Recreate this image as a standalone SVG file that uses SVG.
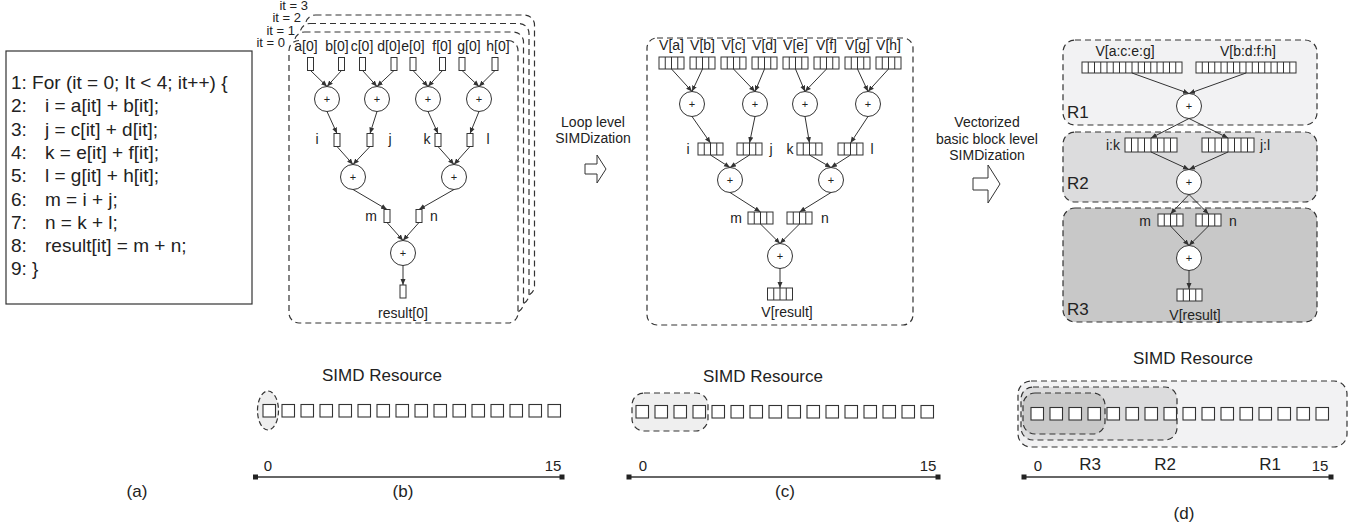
<svg xmlns="http://www.w3.org/2000/svg" xmlns:xlink="http://www.w3.org/1999/xlink" width="1357" height="529" viewBox="0 0 1357 529">
<style>
text{font-family:"Liberation Sans",Arial,sans-serif;fill:#222}
.code{font-size:19px}
.lbl{font-size:14px}
.it{font-size:13px}
.big{font-size:17px}
.dash{fill:none;stroke:#333;stroke-width:1.2;stroke-dasharray:6 4}
.box{fill:#fff;stroke:#333;stroke-width:1}
.edge{fill:none;stroke:#333;stroke-width:1;marker-end:url(#ah)}
.sq{fill:#fff;stroke:#333;stroke-width:1.1}
.tl{stroke:#333;stroke-width:1.6}
.plus{font-size:11px;fill:#222}
</style>
<defs>
<marker id="ah" viewBox="0 0 6 6" refX="6" refY="3" markerWidth="6" markerHeight="6" orient="auto" markerUnits="userSpaceOnUse"><path d="M0,0.5 L6,3 L0,5.5 z" fill="#333"/></marker>
<g id="add"><circle r="12.5" fill="#fff" stroke="#333" stroke-width="1"/><text y="4" text-anchor="middle" class="plus">+</text></g>
<g id="s1"><rect x="-3" y="0" width="6" height="13" class="box"/></g>
<g id="v4"><rect x="0" y="0" width="25" height="12" class="box"/><path d="M6.25,0v12M12.5,0v12M18.75,0v12" stroke="#333" stroke-width="1"/></g>
<g id="v8"><rect x="0" y="0" width="52" height="14" class="box"/><path d="M6.5,0v14M13,0v14M19.5,0v14M26,0v14M32.5,0v14M39,0v14M45.5,0v14" stroke="#333" stroke-width="1"/></g>
<g id="v16"><rect x="0" y="0" width="100" height="11" class="box"/><path d="M6.25,0v11M12.5,0v11M18.75,0v11M25,0v11M31.25,0v11M37.5,0v11M43.75,0v11M50,0v11M56.25,0v11M62.5,0v11M68.75,0v11M75,0v11M81.25,0v11M87.5,0v11M93.75,0v11" stroke="#333" stroke-width="1"/></g>
<g id="row"><rect x="0" y="0" width="12.5" height="12.5" class="sq"/><rect x="19" y="0" width="12.5" height="12.5" class="sq"/><rect x="38" y="0" width="12.5" height="12.5" class="sq"/><rect x="57" y="0" width="12.5" height="12.5" class="sq"/><rect x="76" y="0" width="12.5" height="12.5" class="sq"/><rect x="95" y="0" width="12.5" height="12.5" class="sq"/><rect x="114" y="0" width="12.5" height="12.5" class="sq"/><rect x="133" y="0" width="12.5" height="12.5" class="sq"/><rect x="152" y="0" width="12.5" height="12.5" class="sq"/><rect x="171" y="0" width="12.5" height="12.5" class="sq"/><rect x="190" y="0" width="12.5" height="12.5" class="sq"/><rect x="209" y="0" width="12.5" height="12.5" class="sq"/><rect x="228" y="0" width="12.5" height="12.5" class="sq"/><rect x="247" y="0" width="12.5" height="12.5" class="sq"/><rect x="266" y="0" width="12.5" height="12.5" class="sq"/><rect x="285" y="0" width="12.5" height="12.5" class="sq"/></g>
</defs>
<rect width="1357" height="529" fill="#fff"/>

<!-- (a) code -->
<g id="code">
<rect x="6" y="51" width="246" height="253" fill="#fff" stroke="#333" stroke-width="1.2"/>
<text class="code" x="11" y="89">1: For (it = 0; It &lt; 4; it++) {</text>
<text class="code" y="112.3"><tspan x="11">2:</tspan><tspan x="45">i = a[it] + b[it];</tspan></text>
<text class="code" y="135.6"><tspan x="11">3:</tspan><tspan x="45">j = c[it] + d[it];</tspan></text>
<text class="code" y="158.9"><tspan x="11">4:</tspan><tspan x="45">k = e[it] + f[it];</tspan></text>
<text class="code" y="182.2"><tspan x="11">5:</tspan><tspan x="45">l = g[it] + h[it];</tspan></text>
<text class="code" y="205.5"><tspan x="11">6:</tspan><tspan x="45">m = i + j;</tspan></text>
<text class="code" y="228.8"><tspan x="11">7:</tspan><tspan x="45">n = k + l;</tspan></text>
<text class="code" y="252.1"><tspan x="11">8:</tspan><tspan x="45">result[it] = m + n;</tspan></text>
<text class="code" x="11" y="275.4">9: }</text>
</g>
<text class="big" x="137" y="497" text-anchor="middle">(a)</text>

<!-- (b) stacked frames -->
<g id="frames">
<rect x="305.5" y="15" width="229" height="281" rx="10" class="dash" style="fill:#fff"/>
<rect x="300" y="23.5" width="229" height="281" rx="10" class="dash" style="fill:#fff"/>
<rect x="294.5" y="32" width="229" height="281" rx="10" class="dash" style="fill:#fff"/>
<path d="M299,40.5 A10,10 0 0 0 289,50.5 V313 A10,10 0 0 0 299,323 H508 A10,10 0 0 0 518,313 V50.5 A10,10 0 0 0 508,40.5" fill="#fff" stroke="#333" stroke-width="1.2" stroke-dasharray="6 4"/>
<text class="it" x="308" y="10" text-anchor="end">it = 3</text>
<text class="it" x="301" y="22" text-anchor="end">it = 2</text>
<text class="it" x="295" y="34.5" text-anchor="end">it = 1</text>
<text class="it" x="285" y="47" text-anchor="end">it = 0</text>
</g>
<g id="b-nodes">
<g class="lbl" text-anchor="middle">
<text x="306" y="51">a[0]</text><text x="337" y="51">b[0]</text><text x="362" y="51">c[0]</text><text x="389" y="51">d[0]</text><text x="413" y="51">e[0]</text><text x="442" y="51">f[0]</text><text x="469" y="51">g[0]</text><text x="498" y="51">h[0]</text>
<text x="317" y="144">i</text><text x="390" y="144">j</text><text x="427" y="144">k</text><text x="488" y="144">l</text>
<text x="371" y="221">m</text><text x="434" y="221">n</text>
<text x="403" y="318">result[0]</text>
</g>
<use xlink:href="#s1" x="310.5" y="57.5"/><use xlink:href="#s1" x="341.5" y="57.5"/><use xlink:href="#s1" x="362.5" y="57.5"/><use xlink:href="#s1" x="394" y="57.5"/><use xlink:href="#s1" x="413" y="57.5"/><use xlink:href="#s1" x="442.5" y="57.5"/><use xlink:href="#s1" x="462" y="57.5"/><use xlink:href="#s1" x="495" y="57.5"/>
<use xlink:href="#add" x="327" y="99"/><use xlink:href="#add" x="377" y="99"/><use xlink:href="#add" x="428" y="99"/><use xlink:href="#add" x="479" y="99"/>
<use xlink:href="#s1" x="337" y="133.5"/><use xlink:href="#s1" x="370" y="133.5"/><use xlink:href="#s1" x="438" y="133.5"/><use xlink:href="#s1" x="470" y="133.5"/>
<use xlink:href="#add" x="353" y="177"/><use xlink:href="#add" x="454" y="177"/>
<use xlink:href="#s1" x="387" y="209.5"/><use xlink:href="#s1" x="419" y="209.5"/>
<use xlink:href="#add" x="403" y="253"/>
<use xlink:href="#s1" x="403" y="285"/>
</g>

<!-- (c) -->
<g id="c-frame"><rect x="647" y="38" width="266" height="287" rx="10" class="dash"/></g>
<g id="c-nodes">
<g class="lbl" text-anchor="middle">
<text x="671.5" y="50">V[a]</text><text x="702.5" y="50">V[b]</text><text x="733.5" y="50">V[c]</text><text x="764.5" y="50">V[d]</text><text x="795.5" y="50">V[e]</text><text x="826.5" y="50">V[f]</text><text x="857.5" y="50">V[g]</text><text x="888.5" y="50">V[h]</text>
<text x="688" y="154">i</text><text x="771" y="154">j</text><text x="790" y="154">k</text><text x="872" y="154">l</text>
<text x="736" y="223">m</text><text x="825" y="223">n</text>
<text x="787" y="317">V[result]</text>
</g>
<use xlink:href="#v4" x="659" y="57"/><use xlink:href="#v4" x="690" y="57"/><use xlink:href="#v4" x="721" y="57"/><use xlink:href="#v4" x="752" y="57"/><use xlink:href="#v4" x="783" y="57"/><use xlink:href="#v4" x="814" y="57"/><use xlink:href="#v4" x="845" y="57"/><use xlink:href="#v4" x="876" y="57"/>
<use xlink:href="#add" x="692" y="104"/><use xlink:href="#add" x="755" y="104"/><use xlink:href="#add" x="805" y="104"/><use xlink:href="#add" x="868" y="104"/>
<use xlink:href="#v4" x="698" y="143"/><use xlink:href="#v4" x="737" y="143"/><use xlink:href="#v4" x="797" y="143"/><use xlink:href="#v4" x="838" y="143"/>
<use xlink:href="#add" x="730" y="180"/><use xlink:href="#add" x="831" y="180"/>
<use xlink:href="#v4" x="748" y="212"/><use xlink:href="#v4" x="787" y="212"/>
<use xlink:href="#add" x="780" y="256"/>
<use xlink:href="#v4" x="767.5" y="288"/>
</g>

<!-- arrows between panels -->
<g id="arrow1">
<text class="lbl" x="593" y="127" text-anchor="middle">Loop level</text>
<text class="lbl" x="593" y="143" text-anchor="middle">SIMDization</text>
<path d="M585,164 H597 V155 L606,169 L597,183 V174 H585 Z" fill="#fff" stroke="#333" stroke-width="1"/>
</g>
<g id="arrow2">
<text class="lbl" x="987" y="127" text-anchor="middle">Vectorized</text>
<text class="lbl" x="987" y="144" text-anchor="middle">basic block level</text>
<text class="lbl" x="987" y="160" text-anchor="middle">SIMDization</text>
<path d="M973,178 H988 V165 L1000,184 L988,203 V190 H973 Z" fill="#fff" stroke="#333" stroke-width="1"/>
</g>

<!-- (d) regions -->
<g id="R1"><rect x="1063" y="40" width="254" height="85" rx="12" class="dash" style="fill:#f2f2f3"/><text class="big" x="1067" y="118">R1</text></g>
<g id="R2"><rect x="1063" y="132" width="254" height="70" rx="12" class="dash" style="fill:#dcdcdd"/><text class="big" x="1067" y="189">R2</text></g>
<g id="R3"><rect x="1063" y="208" width="254" height="114" rx="12" class="dash" style="fill:#c8c8c8"/><text class="big" x="1067" y="315">R3</text></g>
<g id="d-nodes">
<g class="lbl" text-anchor="middle">
<text x="1125" y="56">V[a:c:e:g]</text><text x="1248" y="56">V[b:d:f:h]</text>
<text x="1113" y="150">i:k</text><text x="1265" y="150">j:l</text>
<text x="1145" y="226">m</text><text x="1233" y="226">n</text>
<text x="1195" y="320">V[result]</text>
</g>
<use xlink:href="#v16" x="1082" y="62"/><use xlink:href="#v16" x="1196" y="62"/>
<use xlink:href="#add" x="1189" y="106"/>
<use xlink:href="#v8" x="1125" y="138"/><use xlink:href="#v8" x="1202" y="138"/>
<use xlink:href="#add" x="1189" y="182"/>
<use xlink:href="#v4" x="1158" y="214"/><use xlink:href="#v4" x="1196" y="214"/>
<use xlink:href="#add" x="1189" y="258"/>
<use xlink:href="#v4" x="1177" y="289"/>
</g>

<g id="connectors">
<path class="edge" d="M310.5,70.5 L327,86.5"/><path class="edge" d="M341.5,70.5 L327,86.5"/>
<path class="edge" d="M362.5,70.5 L377,86.5"/><path class="edge" d="M394,70.5 L377,86.5"/>
<path class="edge" d="M413,70.5 L428,86.5"/><path class="edge" d="M442.5,70.5 L428,86.5"/>
<path class="edge" d="M462,70.5 L479,86.5"/><path class="edge" d="M495,70.5 L479,86.5"/>
<path class="edge" d="M327,111.5 L337,133.5"/><path class="edge" d="M377,111.5 L370,133.5"/>
<path class="edge" d="M428,111.5 L438,133.5"/><path class="edge" d="M479,111.5 L470,133.5"/>
<path class="edge" d="M337,146.5 L353,164.5"/><path class="edge" d="M370,146.5 L353,164.5"/>
<path class="edge" d="M438,146.5 L454,164.5"/><path class="edge" d="M470,146.5 L454,164.5"/>
<path class="edge" d="M353,189.5 L387,209.5"/><path class="edge" d="M454,189.5 L419,209.5"/>
<path class="edge" d="M387,222.5 L403,240.5"/><path class="edge" d="M419,222.5 L403,240.5"/>
<path class="edge" d="M403,265.5 L403,285"/>
<path class="edge" d="M671.5,69 L692,91.5"/><path class="edge" d="M702.5,69 L692,91.5"/>
<path class="edge" d="M733.5,69 L755,91.5"/><path class="edge" d="M764.5,69 L755,91.5"/>
<path class="edge" d="M795.5,69 L805,91.5"/><path class="edge" d="M826.5,69 L805,91.5"/>
<path class="edge" d="M857.5,69 L868,91.5"/><path class="edge" d="M888.5,69 L868,91.5"/>
<path class="edge" d="M692,116.5 L710.5,143"/><path class="edge" d="M755,116.5 L749.5,143"/>
<path class="edge" d="M805,116.5 L809.5,143"/><path class="edge" d="M868,116.5 L850.5,143"/>
<path class="edge" d="M710.5,155 L730,167.5"/><path class="edge" d="M749.5,155 L730,167.5"/>
<path class="edge" d="M809.5,155 L831,167.5"/><path class="edge" d="M850.5,155 L831,167.5"/>
<path class="edge" d="M730,192.5 L760.5,212"/><path class="edge" d="M831,192.5 L799.5,212"/>
<path class="edge" d="M760.5,224 L780,243.5"/><path class="edge" d="M799.5,224 L780,243.5"/>
<path class="edge" d="M780,268.5 L780,288"/>
<path class="edge" d="M1132,73 L1189,93.5"/><path class="edge" d="M1246,73 L1189,93.5"/>
<path class="edge" d="M1189,118.5 L1151,138"/><path class="edge" d="M1189,118.5 L1228,138"/>
<path class="edge" d="M1151,152 L1189,169.5"/><path class="edge" d="M1228,152 L1189,169.5"/>
<path class="edge" d="M1189,194.5 L1170.5,214"/><path class="edge" d="M1189,194.5 L1208.5,214"/>
<path class="edge" d="M1170.5,226 L1189,245.5"/><path class="edge" d="M1208.5,226 L1189,245.5"/>
<path class="edge" d="M1189,270.5 L1189,289"/>
</g>

<g id="res-b">
<text class="big" x="382" y="381" text-anchor="middle">SIMD Resource</text>
<ellipse cx="268" cy="410.5" rx="10.5" ry="19.5" class="dash" style="fill:#eeeeee;stroke-dasharray:5 3"/>
<use xlink:href="#row" x="263" y="404.5"/>
<line x1="256" y1="477" x2="562" y2="477" class="tl"/><rect x="253" y="474.5" width="5" height="5" fill="#222"/><rect x="559.5" y="474.5" width="5" height="5" fill="#222"/>
<text x="268" y="471" text-anchor="middle" style="font-size:15px">0</text>
<text x="553" y="471" text-anchor="middle" style="font-size:15px">15</text>
<text class="big" x="403" y="497" text-anchor="middle">(b)</text>
</g>
<g id="res-c">
<text class="big" x="763" y="382" text-anchor="middle">SIMD Resource</text>
<rect x="632" y="393" width="76" height="38" rx="12" class="dash" style="fill:#efefef"/>
<use xlink:href="#row" x="636" y="405.5"/>
<line x1="629" y1="477" x2="938" y2="477" class="tl"/><rect x="626.5" y="474.5" width="5" height="5" fill="#222"/><rect x="935.5" y="474.5" width="5" height="5" fill="#222"/>
<text x="643" y="471" text-anchor="middle" style="font-size:15px">0</text>
<text x="928" y="471" text-anchor="middle" style="font-size:15px">15</text>
<text class="big" x="785" y="497" text-anchor="middle">(c)</text>
</g>
<g id="res-d">
<text class="big" x="1193" y="364" text-anchor="middle">SIMD Resource</text>
<rect x="1018" y="381" width="329" height="66" rx="13" class="dash" style="fill:#f2f2f3"/>
<rect x="1021" y="387" width="156" height="53" rx="12" class="dash" style="fill:#dcdcdd"/>
<rect x="1023" y="393" width="82" height="41" rx="12" class="dash" style="fill:#c8c8c8"/>
<use xlink:href="#row" x="1031" y="407.5"/>
<line x1="1024" y1="477" x2="1331" y2="477" class="tl"/><rect x="1021.5" y="474.5" width="5" height="5" fill="#222"/><rect x="1328.5" y="474.5" width="5" height="5" fill="#222"/>
<text x="1038" y="471" text-anchor="middle" style="font-size:15px">0</text>
<text class="big" x="1090" y="470" text-anchor="middle">R3</text>
<text class="big" x="1165" y="470" text-anchor="middle">R2</text>
<text class="big" x="1270" y="470" text-anchor="middle">R1</text>
<text x="1320" y="471" text-anchor="middle" style="font-size:15px">15</text>
<text class="big" x="1184" y="519" text-anchor="middle">(d)</text>
</g>
</svg>
